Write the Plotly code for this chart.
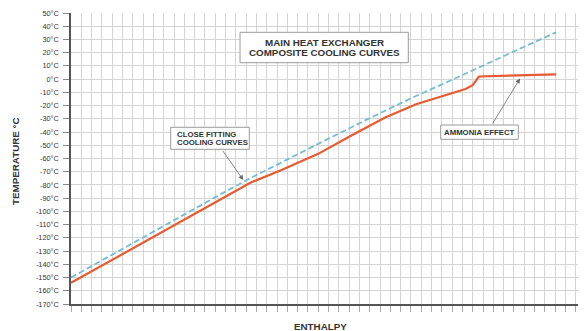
import plotly.graph_objects as go

# ---------------- data ----------------
y_ticks = list(range(-170, 51, 10))
y_tick_labels = [f"{v}°C" for v in y_ticks]

hot_enthalpy = [0, 4, 8, 12, 15, 17.5, 21, 25, 29, 33, 37, 41, 44, 47.1]
hot_temp = [-150, -132.5, -115, -97.5, -85, -74.5, -60.5, -45, -29.5, -14.5, -0.5, 14, 24.5, 35.4]

cold_enthalpy = [0, 4, 8, 12, 15, 17.5, 20.5, 24, 27, 30.5, 33.5, 36.5, 38.3, 39.0, 39.3, 39.6, 47.1]
cold_temp = [-154, -136.5, -119, -101.5, -88.5, -78, -68.5, -56.5, -43.5, -29, -19, -12, -7.5, -4.5, -1.5, 2.0, 3.6]

title_lines = ["MAIN HEAT EXCHANGER", "COMPOSITE COOLING CURVES"]
close_lines = ["CLOSE FITTING", "COOLING CURVES"]
ammonia_text = "AMMONIA EFFECT"

# ---------------- layout geometry ----------------
OFF = 8  # default body margin of the page
W, H = 586 - OFF, 331 - OFF
ML, MR, MT, MB = 71 - OFF, 0, 13 - OFF, 27
X0, X1 = 0, 50
Y0, Y1 = -170, 50
PW, PH = W - ML - MR, H - MT - MB


def dx(px):
    return X0 + (px - OFF - ML) / PW * (X1 - X0)


def dy(py):
    return Y1 - (py - OFF - MT) / PH * (Y1 - Y0)


def paper_x(px):
    return (px - OFF - ML) / PW


def paper_y(py):
    return 1 - (py - OFF - MT) / PH


FONT = "Liberation Sans, Arial, sans-serif"
TXT = "#333333"

fig = go.Figure()

fig.add_trace(go.Scatter(
    x=hot_enthalpy, y=hot_temp, mode="lines",
    line=dict(color="#74BCD4", width=1.8, dash="6px,3px"),
    showlegend=False, hoverinfo="skip"))

fig.add_trace(go.Scatter(
    x=cold_enthalpy, y=cold_temp, mode="lines",
    line=dict(color="#E85A30", width=2.2),
    showlegend=False, hoverinfo="skip"))

shapes = []
annotations = []


def box(x0, y0, x1, y1):
    shapes.append(dict(type="rect", xref="x", yref="y",
                       x0=dx(x0), x1=dx(x1), y0=dy(y0), y1=dy(y1),
                       line=dict(color="#9a9a9a", width=1),
                       fillcolor="white", layer="above"))


def text(px, py, s, size, xanchor="center"):
    annotations.append(dict(x=dx(px), y=dy(py), xref="x", yref="y",
                            text=f"<b>{s}</b>", showarrow=False,
                            xanchor=xanchor, yanchor="middle",
                            font=dict(family=FONT, size=size, color=TXT)))


# title box
box(240, 32.3, 408.3, 62.7)
text(324, 42.5, title_lines[0], 9.8)
text(324, 52.7, title_lines[1], 9.8)

# close fitting box
box(170.7, 127.3, 249.3, 149.3)
text(175, 134, close_lines[0], 7.8, "left")
text(175, 142, close_lines[1], 7.8, "left")

# ammonia box
box(440.7, 125, 518.3, 139.3)
text(479.5, 132.3, ammonia_text, 7.8)

# arrows
for tail, tip in [((221.7, 149.3), (243.3, 180)), ((491.7, 125), (520, 78.5))]:
    annotations.append(dict(x=dx(tip[0]), y=dy(tip[1]), ax=dx(tail[0]), ay=dy(tail[1]),
                            xref="x", yref="y", axref="x", ayref="y", text="",
                            showarrow=True, arrowhead=2, arrowsize=1.2,
                            arrowwidth=0.8, arrowcolor="#666666"))

# axis titles
annotations.append(dict(x=paper_x(15), y=paper_y(161), xref="paper", yref="paper",
                        text="<b>TEMPERATURE °C</b>", textangle=-90,
                        showarrow=False, xanchor="center", yanchor="middle",
                        font=dict(family=FONT, size=9.8, color=TXT)))
annotations.append(dict(x=paper_x(320), y=paper_y(326), xref="paper", yref="paper",
                        text="<b>ENTHALPY</b>", showarrow=False,
                        xanchor="center", yanchor="middle",
                        font=dict(family=FONT, size=9.8, color=TXT)))

fig.update_layout(
    width=W, height=H,
    margin=dict(l=ML, r=MR, t=MT, b=MB, pad=0),
    paper_bgcolor="white", plot_bgcolor="white",
    shapes=shapes, annotations=annotations,
    xaxis=dict(range=[X0, X1], dtick=1, tick0=0, showgrid=True,
               gridcolor="#d4d4d4", gridwidth=1, zeroline=False,
               showline=True, linecolor="#555555", linewidth=1.6,
               ticks="outside", ticklen=6, tickcolor="#aaaaaa", tickwidth=1,
               showticklabels=False, fixedrange=True),
    yaxis=dict(range=[Y0, Y1], tickvals=y_ticks, ticktext=y_tick_labels,
               showgrid=True, gridcolor="#d4d4d4", gridwidth=1, zeroline=False,
               showline=True, linecolor="#555555", linewidth=1.6,
               ticks="outside", ticklen=6, tickcolor="#888888", tickwidth=1,
               tickfont=dict(family=FONT, size=7.3, color=TXT),
               ticklabelstandoff=3, fixedrange=True),
)

fig.write_html("out.html")
